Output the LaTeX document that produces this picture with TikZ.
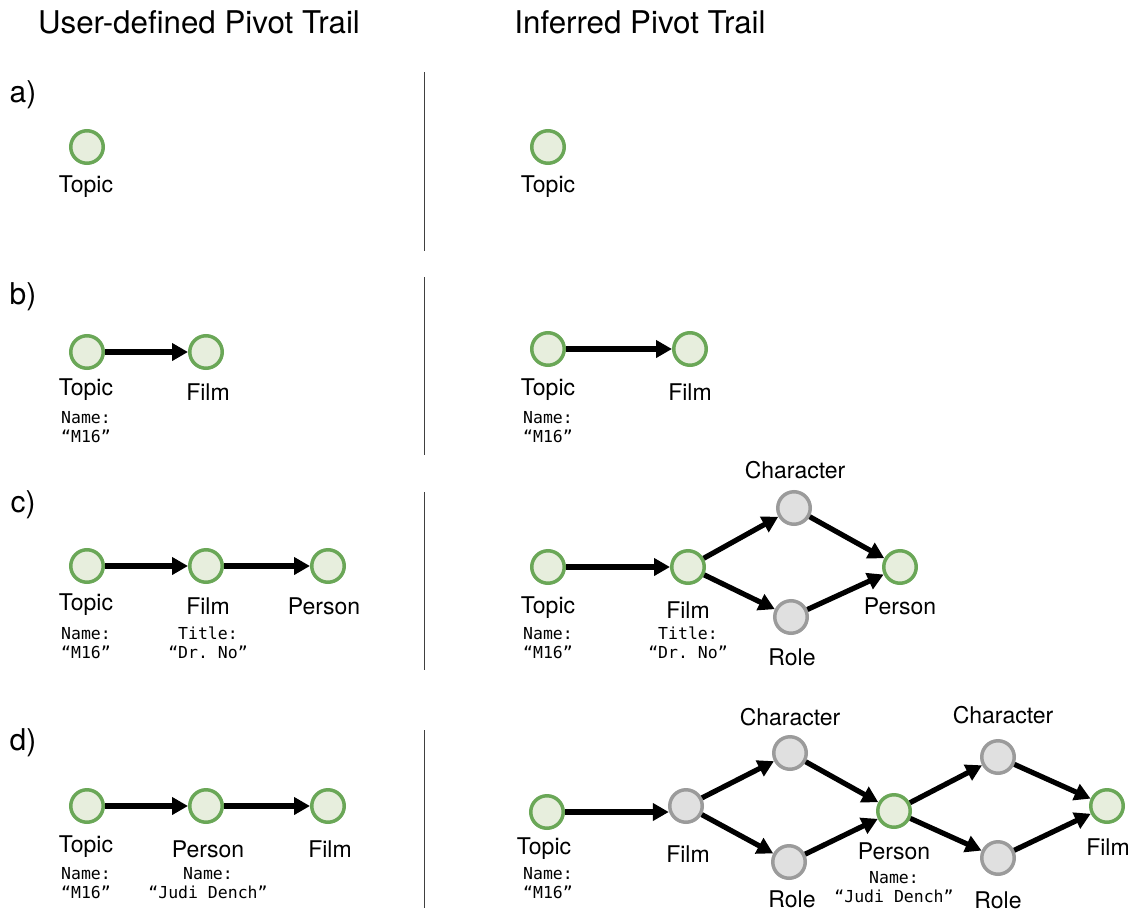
\documentclass[tikz,border=0pt]{standalone}
\usepackage{fontspec}
\setmainfont{TeX Gyre Heros}
\setmonofont{DejaVu Sans Mono}
\usetikzlibrary{arrows.meta}
\definecolor{knownline}{HTML}{6AA757}
\definecolor{knownfill}{HTML}{E7EEDD}
\definecolor{hiddenline}{HTML}{9B9B9B}
\definecolor{hiddenfill}{HTML}{E0E0E0}

\begin{document}
\begin{tikzpicture}[x=1pt,y=-1pt,
  known/.style={circle,draw=knownline,fill=knownfill,line width=3.5pt,minimum size=32.5pt,inner sep=0pt},
  hidden/.style={circle,draw=hiddenline,fill=hiddenfill,line width=3.5pt,minimum size=32.5pt,inner sep=0pt},
  flow/.style={line width=5.2pt,-{Triangle[length=16pt,width=17pt]}},
  title/.style={font=\fontsize{31.3}{36}\selectfont,inner sep=0pt},
  rowlabel/.style={font=\fontsize{30}{34}\selectfont,inner sep=0pt},
  lbl/.style={font=\fontsize{23}{27}\selectfont,inner sep=0pt},
  attr/.style={font=\ttfamily\fontsize{16.5}{19.5}\selectfont,inner sep=0pt,align=center},
  divider/.style={draw=black!75,line width=1pt}
]
\useasboundingbox (0,0) rectangle (1141,913);

% headings
\node[title] (t1) at (199,22) {User-defined Pivot Trail};
\node[title] (t2) at (640,22) {Inferred Pivot Trail};

% dividers between the two columns
\coordinate (d1a) at (424,72);  \coordinate (d1b) at (424,251);
\coordinate (d2a) at (424,277); \coordinate (d2b) at (424,455);
\coordinate (d3a) at (424,492); \coordinate (d3b) at (424,670);
\coordinate (d4a) at (424,730); \coordinate (d4b) at (424,908);
\draw[divider] (d1a) -- (d1b);
\draw[divider] (d2a) -- (d2b);
\draw[divider] (d3a) -- (d3b);
\draw[divider] (d4a) -- (d4b);

% ---------- a) ----------
\node[rowlabel] (ra) at (23,95) {a)};
\node[known] (aL1) at (87,147) {};
\node[lbl] (aL1t) at (86,187) {Topic};
\node[known] (aR1) at (548,147) {};
\node[lbl] (aR1t) at (548,187) {Topic};

% ---------- b) ----------
\node[rowlabel] (rb) at (23,297) {b)};
\node[known] (bL1) at (87,352) {};
\node[known] (bL2) at (206,352) {};
\draw[flow] (bL1) -- (bL2);
\node[lbl] (bL1t) at (86,390) {Topic};
\node[lbl] (bL2t) at (208,392) {Film};
\node[attr] (bL1a) at (86,427) {Name:\\“M16”};

\node[known] (bR1) at (548,349) {};
\node[known] (bR2) at (690,349) {};
\draw[flow] (bR1) -- (bR2);
\node[lbl] (bR1t) at (548,390) {Topic};
\node[lbl] (bR2t) at (690,392) {Film};
\node[attr] (bR1a) at (548,427) {Name:\\“M16”};

% ---------- c) ----------
\node[rowlabel] (rc) at (23,505) {c)};
\node[known] (cL1) at (87,566) {};
\node[known] (cL2) at (206,566) {};
\node[known] (cL3) at (328,566) {};
\draw[flow] (cL1) -- (cL2);
\draw[flow] (cL2) -- (cL3);
\node[lbl] (cL1t) at (86,605) {Topic};
\node[lbl] (cL2t) at (208,606) {Film};
\node[lbl] (cL3t) at (324,606) {Person};
\node[attr] (cL1a) at (86,643) {Name:\\“M16”};
\node[attr] (cL2a) at (208,643) {Title:\\“Dr. No”};

\node[known] (cR1) at (548,567) {};
\node[known] (cR2) at (688,567) {};
\node[hidden] (cR3) at (794,508) {};
\node[hidden] (cR4) at (791,617) {};
\node[known] (cR5) at (900,567) {};
\draw[flow] (cR1) -- (cR2);
\draw[flow] (cR2) -- (cR3);
\draw[flow] (cR2) -- (cR4);
\draw[flow] (cR3) -- (cR5);
\draw[flow] (cR4) -- (cR5);
\node[lbl] (cR1t) at (548,608) {Topic};
\node[lbl] (cR2t) at (688,610) {Film};
\node[lbl] (cR3t) at (795,470) {Character};
\node[lbl] (cR4t) at (792,657) {Role};
\node[lbl] (cR5t) at (900,606) {Person};
\node[attr] (cR1a) at (548,643) {Name:\\“M16”};
\node[attr] (cR2a) at (688,643) {Title:\\“Dr. No”};

% ---------- d) ----------
\node[rowlabel] (rd) at (23,743) {d)};
\node[known] (dL1) at (87,806) {};
\node[known] (dL2) at (206,806) {};
\node[known] (dL3) at (328,806) {};
\draw[flow] (dL1) -- (dL2);
\draw[flow] (dL2) -- (dL3);
\node[lbl] (dL1t) at (86,847) {Topic};
\node[lbl] (dL2t) at (208,849) {Person};
\node[lbl] (dL3t) at (330,849) {Film};
\node[attr] (dL1a) at (86,883) {Name:\\“M16”};
\node[attr] (dL2a) at (208,883) {Name:\\“Judi Dench”};

\node[known] (dR1) at (547,812) {};
\node[hidden] (dR2) at (686,806) {};
\node[hidden] (dR3) at (790,753) {};
\node[hidden] (dR4) at (789,862) {};
\node[known] (dR5) at (894,811) {};
\node[hidden] (dR6) at (998,757) {};
\node[hidden] (dR7) at (998,858) {};
\node[known] (dR8) at (1107,806) {};
% the first step runs level with the Topic node
\coordinate (dR2in) at ([xshift=0.8pt]dR1.east -| dR2.west);
\draw[flow] (dR1.east) -- (dR2in);
\draw[flow] (dR2) -- (dR3);
\draw[flow] (dR2) -- (dR4);
\draw[flow] (dR3) -- (dR5);
\draw[flow] (dR4) -- (dR5);
\draw[flow] (dR5) -- (dR6);
\draw[flow] (dR5) -- (dR7);
\draw[flow] (dR6) -- (dR8);
\draw[flow] (dR7) -- (dR8);
\node[lbl] (dR1t) at (544,849) {Topic};
\node[lbl] (dR2t) at (688,854) {Film};
\node[lbl] (dR3t) at (790,717) {Character};
\node[lbl] (dR4t) at (792,899) {Role};
\node[lbl] (dR5t) at (894,851) {Person};
\node[lbl] (dR6t) at (1003,715) {Character};
\node[lbl] (dR7t) at (998,900) {Role};
\node[lbl] (dR8t) at (1108,847) {Film};
\node[attr] (dR1a) at (548,883) {Name:\\“M16”};
\node[attr] (dR5a) at (894,887) {Name:\\“Judi Dench”};
\end{tikzpicture}
\end{document}
